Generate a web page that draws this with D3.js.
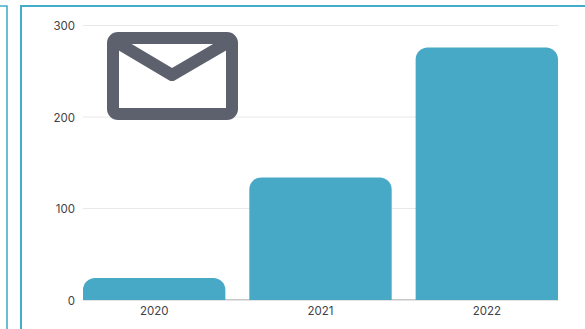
<!DOCTYPE html>
<html>
<head>
<meta charset="utf-8">
<script src="https://cdn.jsdelivr.net/npm/d3@7/dist/d3.min.js"></script>
<style>
html,body{margin:0;padding:0;background:#fff;overflow:hidden}
svg{display:block}
text{font-family:Inter,"Noto Sans",sans-serif;fill:#3f4248;font-size:11.5px}
</style>
</head>
<body>
<svg id="chart" width="585" height="329"></svg>
<script>
const years = ["2020", "2021", "2022"];
const counts = [24, 134, 276];
const yTicks = [0, 100, 200, 300];

const svg = d3.select("#chart");
const teal = "#47a9c5";
const frame = "#45adcb";
const x = d3.scaleBand().domain(years).range([83, 558]).paddingInner(0.144).paddingOuter(0);
const y = d3.scaleLinear().domain([0, 300]).range([300, 25.5]);

// Card outlines: the neighbouring card's right edge and this card's top-left corner
svg.append("path").attr("d", "M0 6H7V329").attr("fill", "none").attr("stroke", frame).attr("stroke-width", 1.6);
svg.append("path").attr("d", "M21 329V6H585").attr("fill", "none").attr("stroke", frame).attr("stroke-width", 2);

// Horizontal grid
svg.append("g").selectAll("line").data(yTicks.filter(d => d > 0)).join("line")
  .attr("x1", 83).attr("x2", 558)
  .attr("y1", d => y(d)).attr("y2", d => y(d))
  .attr("stroke", "#e8e8e8").attr("stroke-width", 1);

// Baseline
svg.append("line").attr("x1", 83).attr("x2", 558).attr("y1", y(0) - 0.3).attr("y2", y(0) - 0.3)
  .attr("stroke", "#c8c8c8").attr("stroke-width", 1.4);

// Bars with rounded top corners only
const r = 12;
svg.append("g").selectAll("path").data(years).join("path")
  .attr("fill", teal)
  .attr("d", (d, i) => {
    const x0 = x(d), w = x.bandwidth(), t = y(counts[i]), b = y(0);
    return `M${x0} ${b}V${t + r}A${r} ${r} 0 0 1 ${x0 + r} ${t}H${x0 + w - r}A${r} ${r} 0 0 1 ${x0 + w} ${t + r}V${b}Z`;
  });

// Axis labels
const yAxis = d3.axisLeft(y).tickValues(yTicks).tickSize(0).tickPadding(8);
const gy = svg.append("g").attr("transform", "translate(83,0.5)").call(yAxis);
gy.select(".domain").remove();
gy.selectAll("text").attr("dy", "0.32em");

const xAxis = d3.axisBottom(x).tickSize(0).tickPadding(7);
const gx = svg.append("g").attr("transform", "translate(0,300)").call(xAxis);
gx.select(".domain").remove();

// Envelope icon
const icon = svg.append("g").attr("fill", "none").attr("stroke", "#5c616d").attr("stroke-width", 12);
icon.append("rect").attr("x", 113).attr("y", 38).attr("width", 119).attr("height", 76)
  .attr("rx", 5).attr("fill", "#fff");
icon.append("path").attr("d", "M113 40L172 75L232 40").attr("stroke-linejoin", "round");
</script>
</body>
</html>
